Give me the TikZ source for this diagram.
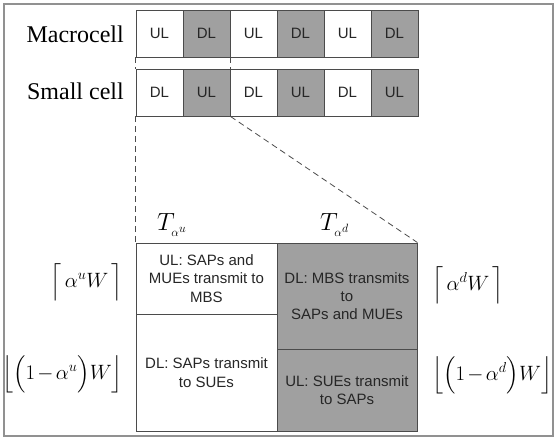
\documentclass[tikz,border=0pt]{standalone}
\usepackage{amsmath}
\usepackage{fontspec}
\setmainfont{Liberation Serif}
\setsansfont{Liberation Sans}
\definecolor{cellgray}{RGB}{160,160,160}
\definecolor{linecol}{RGB}{75,75,75}
\definecolor{framecol}{RGB}{145,145,145}
\newcommand{\subal}[1]{\lower3pt\hbox{$\scriptscriptstyle\alpha^{#1}$}}
\newcommand{\dstrut}[1]{\vcenter{\hbox{\rule{0pt}{#1}}}}
\begin{document}
\begin{tikzpicture}[x=1pt,y=-1pt,
  cellbase/.style={draw=linecol, line width=0.9pt, minimum width=47pt, minimum height=47pt,
    inner sep=0pt, font=\sffamily\fontsize{15}{18}\selectfont, text=black!85},
  wcell/.style={cellbase, fill=white},
  gcell/.style={cellbase, fill=cellgray},
  rowlab/.style={inner sep=0pt, font=\fontsize{24}{28}\selectfont},
  boxbase/.style={draw=linecol, line width=0.9pt, inner sep=0pt, align=center,
    font=\sffamily\fontsize{15}{18.3}\selectfont, text=black!85},
  mlab/.style={inner sep=0pt, font=\fontsize{21}{25}\selectfont},
  tlab/.style={inner sep=0pt, font=\fontsize{25}{29}\selectfont},
  dashln/.style={draw=linecol, line width=0.8pt, dash pattern=on 6pt off 4pt}]
\useasboundingbox (0,0) rectangle (558,439);
\draw[framecol, line width=1.2pt] (4,4) rectangle (553,436);
% row labels
\node[rowlab, anchor=base east] (lmac) at (124,42) {Macrocell};
\node[rowlab, anchor=base east] (lsc) at (124,99) {Small cell};
% macrocell row
\node[wcell] (m1) at (159.5,33.5) {UL};
\node[gcell] (m2) at (206.5,33.5) {DL};
\node[wcell] (m3) at (253.5,33.5) {UL};
\node[gcell] (m4) at (300.5,33.5) {DL};
\node[wcell] (m5) at (347.5,33.5) {UL};
\node[gcell] (m6) at (394.5,33.5) {DL};
% small cell row
\node[wcell] (s1) at (159.5,92.5) {DL};
\node[gcell] (s2) at (206.5,92.5) {UL};
\node[wcell] (s3) at (253.5,92.5) {DL};
\node[gcell] (s4) at (300.5,92.5) {UL};
\node[wcell] (s5) at (347.5,92.5) {DL};
\node[gcell] (s6) at (394.5,92.5) {UL};
% big box
\node[boxbase, fill=white, minimum width=141pt, minimum height=71pt] (bul) at (206.5,278.5)
  {UL: SAPs and\\MUEs transmit to\\MBS};
\node[boxbase, fill=white, minimum width=141pt, minimum height=117pt] (bdl) at (206.5,372.5)
  {DL: SAPs transmit\\to SUEs};
\node[boxbase, fill=cellgray, minimum width=140pt, minimum height=106pt] (bdr) at (347,296)
  {DL: MBS transmits\\to\\SAPs and MUEs};
\node[boxbase, fill=cellgray, minimum width=140pt, minimum height=82pt] (bur) at (347,390)
  {UL: SUEs transmit\\to SAPs};
% dashed connectors
\draw[dashln] (m1.south west) -- (s1.north west);
\draw[dashln] (m2.south east) -- (s2.north east);
\draw[dashln] (s1.south west) -- (bul.north west);
\draw[dashln] (s2.south east) -- (bdr.north east);
% math labels
\node[tlab, anchor=north west] (tu) at (157,213) {$T_{\subal{u}}$};
\node[tlab, anchor=north west] (td) at (320,213) {$T_{\subal{d}}$};
\node[mlab, anchor=east] (cu) at (123,282)
  {$\Bigl\lceil\,\alpha^u W\,\Bigr\rceil$};
\node[mlab, anchor=east] (fu) at (123,374)
  {$\left\lfloor\dstrut{38pt}\Bigl(1\mkern2mu{-}\mkern2mu\alpha^u\Bigr) W\right\rfloor$};
\node[mlab, anchor=west] (cd) at (432,285)
  {$\Bigl\lceil\,\alpha^d W\,\Bigr\rceil$};
\node[mlab, anchor=west] (fd) at (432,375)
  {$\left\lfloor\dstrut{38pt}\Bigl(1\mkern2mu{-}\mkern2mu\alpha^d\Bigr) W\right\rfloor$};
\end{tikzpicture}
\end{document}
